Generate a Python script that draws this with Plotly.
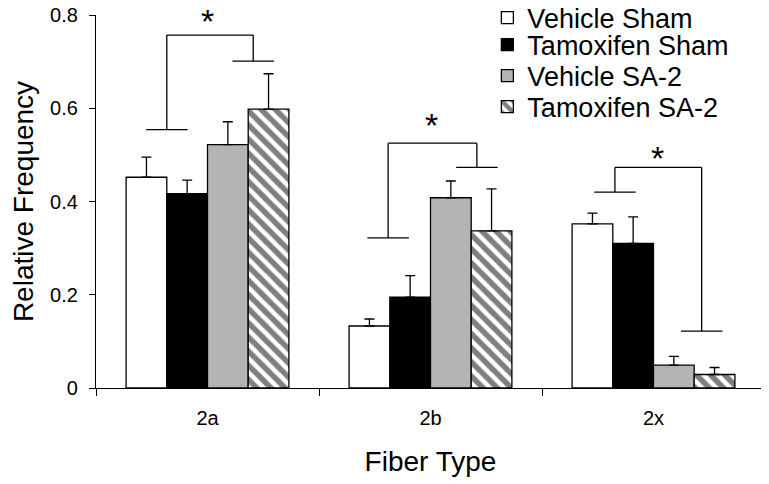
import plotly.graph_objects as go

categories = ["2a", "2b", "2x"]
series_names = ["Vehicle Sham", "Tamoxifen Sham", "Vehicle SA-2", "Tamoxifen SA-2"]
vehicle_sham = [0.452, 0.133, 0.352]
tamoxifen_sham = [0.417, 0.195, 0.310]
vehicle_sa2 = [0.522, 0.408, 0.049]
tamoxifen_sa2 = [0.598, 0.337, 0.029]
err_vehicle_sham = [0.043, 0.015, 0.023]
err_tamoxifen_sham = [0.029, 0.046, 0.057]
err_vehicle_sa2 = [0.049, 0.036, 0.019]
err_tamoxifen_sa2 = [0.076, 0.090, 0.015]
y_ticks = [0, 0.2, 0.4, 0.6, 0.8]
y_tick_labels = ["0", "0.2", "0.4", "0.6", "0.8"]

# significance brackets: (category index, left x offset, left low y, right x offset, right low y, top y)
brackets = [
    (0, -0.1825, 0.554, 0.205, 0.701, 0.757),
    (1, -0.19, 0.322, 0.208, 0.473, 0.525),
    (2, -0.173, 0.420, 0.216, 0.122, 0.473),
]
# star annotations: (category index, x offset, y)
stars = [(0, 0.0, 0.787), (1, 0.005, 0.564), (2, 0.02, 0.493)]

values = [vehicle_sham, tamoxifen_sham, vehicle_sa2, tamoxifen_sa2]
errors = [err_vehicle_sham, err_tamoxifen_sham, err_vehicle_sa2, err_tamoxifen_sa2]
fills = ["white", "black", "#b4b4b4", "white"]
legends = ["legend", "legend2", "legend3", "legend4"]

FONT = "Liberation Sans, Arial, sans-serif"
fig = go.Figure()
for i, name in enumerate(series_names):
    marker = dict(color=fills[i], line=dict(color="black", width=1.3))
    if i == 3:
        marker["pattern"] = dict(shape="\\", fgcolor="black", bgcolor="white",
                                 size=10, solidity=0.55)
    fig.add_trace(go.Bar(
        x=categories, y=values[i], name=name, marker=marker,
        legend=legends[i],
        error_y=dict(type="data", array=errors[i], arrayminus=[0] * len(errors[i]),
                     symmetric=False, color="black", thickness=1.3, width=5),
    ))

line = dict(color="black", width=1.3)
hw = 0.093
for (c, lx, ly, rx, ry, ty) in brackets:
    segs = [
        (c + lx - hw, ly, c + lx + hw, ly),
        (c + lx, ly, c + lx, ty),
        (c + lx, ty, c + rx, ty),
        (c + rx, ty, c + rx, ry),
        (c + rx - hw, ry, c + rx + hw, ry),
    ]
    for (x0, y0, x1, y1) in segs:
        fig.add_shape(type="line", xref="x", yref="y", x0=x0, y0=y0, x1=x1, y1=y1,
                      line=line)

for (c, dx, y) in stars:
    fig.add_annotation(x=c + dx, y=y, xref="x", yref="y", text="*", showarrow=False,
                       font=dict(size=34, color="black", family=FONT),
                       yanchor="middle")

# page offset of the figure inside the browser window (default body margin)
PAGE_OFF = 8
W, H = 769 - PAGE_OFF, 484 - PAGE_OFF

leg_common = dict(font=dict(size=27, color="black", family=FONT), xanchor="left",
                  yanchor="middle", x=0.585, yref="container",
                  bgcolor="rgba(0,0,0,0)", itemwidth=30)
leg_py = [18, 45, 76, 107]
leg_y = [1 - (p - PAGE_OFF) / H for p in leg_py]
fig.update_layout(
    width=W, height=H,
    margin=dict(l=96 - PAGE_OFF, r=4, t=15 - PAGE_OFF, b=96, autoexpand=False),
    paper_bgcolor="white", plot_bgcolor="white",
    font=dict(family=FONT, color="black"),
    barmode="group", bargap=0.27, bargroupgap=0,
    showlegend=True,
    legend=dict(y=leg_y[0], **leg_common),
    legend2=dict(y=leg_y[1], **leg_common),
    legend3=dict(y=leg_y[2], **leg_common),
    legend4=dict(y=leg_y[3], **leg_common),
    xaxis=dict(type="category", showline=True, linecolor="black", linewidth=1.3,
               ticks="outside", tickson="boundaries", ticklen=7, tickwidth=1.3,
               tickcolor="black", tickfont=dict(size=20, color="black"),
               ticklabelstandoff=12, showgrid=False, zeroline=False, automargin=False,
               title=dict(text="Fiber Type", font=dict(size=28, color="black"), standoff=23)),
    yaxis=dict(range=[0, 0.8], tickvals=y_ticks, ticktext=y_tick_labels,
               showline=True, linecolor="black", linewidth=1.3, automargin=False,
               ticks="outside", ticklen=6, tickwidth=1.3, tickcolor="black",
               tickfont=dict(size=20, color="black"), ticklabelstandoff=7,
               ticklabeloverflow="allow", showgrid=False, zeroline=False,
               title=dict(text="Relative Frequency", font=dict(size=28, color="black"),
                          standoff=26)),
)
fig.write_html("out.html")
